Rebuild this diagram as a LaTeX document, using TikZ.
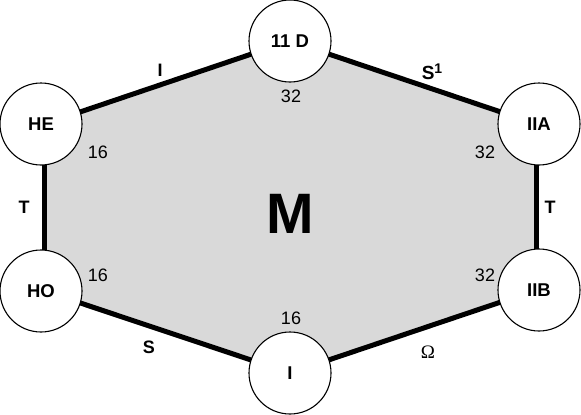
\documentclass[tikz,border=0pt]{standalone}
\usepackage{fontspec}
\setmainfont{Liberation Sans}
\newfontfamily\serifomega{Liberation Serif}
\begin{document}
\begin{tikzpicture}[x=1pt,y=-1pt,
  vert/.style={circle,draw=black,line width=1.1pt,fill=white,minimum size=82pt,inner sep=0pt,font=\fontsize{18.5}{18.5}\selectfont\bfseries},
  edge/.style={line width=5pt},
  elab/.style={font=\fontsize{18}{18}\selectfont\bfseries},
  num/.style={font=\fontsize{18}{18}\selectfont}]
\useasboundingbox (0,0) rectangle (581,415);
\coordinate (c11) at (290,41);
\coordinate (cHE) at (44.5,124);
\coordinate (cHO) at (44.5,291);
\coordinate (cIIA) at (536.5,124);
\coordinate (cIIB) at (536.5,290);
\coordinate (cI) at (290,373);
\fill[gray!30] (c11) -- (cIIA) -- (cIIB) -- (cI) -- (cHO) -- (cHE) -- cycle;
\draw[edge] (cHE) -- (c11);
\draw[edge] (c11) -- (cIIA);
\draw[edge] (cIIA) -- (cIIB);
\draw[edge] (cIIB) -- (cI);
\draw[edge] (cI) -- (cHO);
\draw[edge] (cHO) -- (cHE);
\node[vert] (n11) at (290,41) {11 D};
\node[vert] (nHE) at (41,124) {HE};
\node[vert] (nHO) at (41,291) {HO};
\node[vert] (nIIA) at (539,124) {IIA};
\node[vert] (nIIB) at (539,290) {IIB};
\node[vert] (nI) at (290,373) {I};
\node[elab] (lI) at (160,70) {I};
\node[font=\fontsize{19}{19}\selectfont\bfseries] (lS1) at (432,72) {S\raisebox{6pt}{\fontsize{14}{14}\selectfont\bfseries 1}};
\node[elab] (lT1) at (24,207) {T};
\node[elab] (lT2) at (550,207) {T};
\node[elab] (lS) at (149,347) {S};
\node[font=\fontsize{19}{19}\selectfont\serifomega] (lO) at (428,352) {Ω};
\node[num] (m1) at (291,96) {32};
\node[num] (m2) at (98,152.5) {16};
\node[num] (m3) at (485,152.5) {32};
\node[num] (m4) at (98,275) {16};
\node[num] (m5) at (485,275) {32};
\node[num] (m6) at (291,318) {16};
\node[font=\fontsize{57}{57}\selectfont\bfseries] (M) at (290,214) {M};
\end{tikzpicture}
\end{document}
